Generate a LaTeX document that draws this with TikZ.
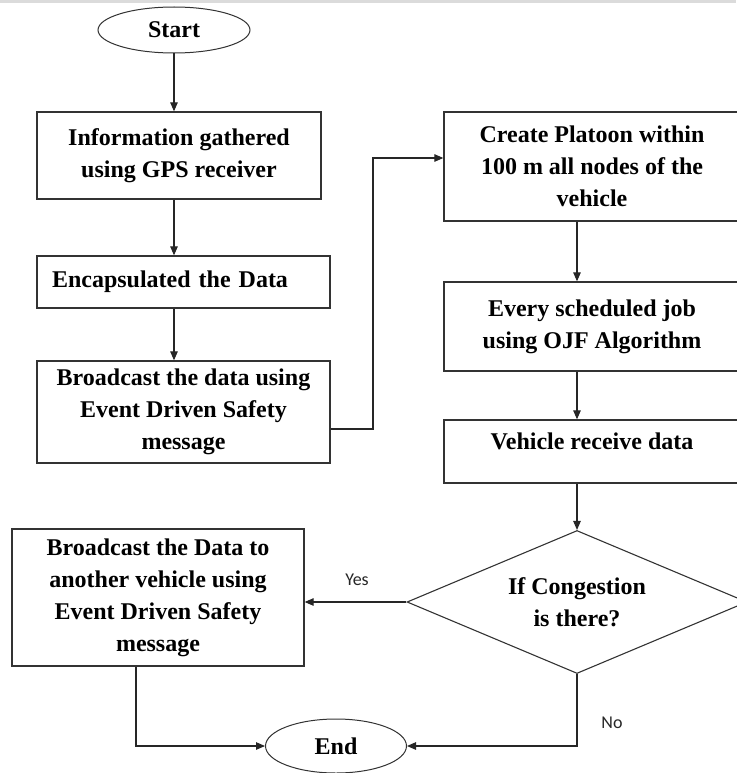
\documentclass[tikz,border=0pt]{standalone}
\usepackage{fontspec}
\setmainfont{Liberation Serif}
\newfontfamily\labelfont{Carlito}
\usetikzlibrary{shapes.geometric,arrows.meta}
\begin{document}
\begin{tikzpicture}[x=1pt,y=-1pt,
  boxtext/.style={font=\fontsize{24}{32}\selectfont\bfseries},
  stepbox/.style={boxtext, draw=black!80, line width=1.3pt, rectangle,
    inner sep=0pt, align=center},
  term/.style={boxtext, draw=black!80, line width=1pt, ellipse, inner sep=0pt},
  decision/.style={boxtext, draw=black!80, line width=1.1pt, diamond,
    aspect=2.38, inner sep=0pt, align=center},
  flow/.style={draw=black!85, line width=1.1pt,
    -{Triangle[length=9pt,width=7.5pt]}},
  ans/.style={font=\labelfont\fontsize{18}{20}\selectfont, text=black!85}]
\useasboundingbox (0,0) rectangle (736,773);
\fill[black!14] (0,0) rectangle (736,3);

% terminals
\node[term, minimum width=152pt, minimum height=46pt] (start) at (174,30) {Start};
\node[term, minimum width=141pt, minimum height=54pt] (end) at (336,746) {End};

% left column
\node[stepbox, minimum width=284pt, minimum height=87pt] (b1) at (179,155.5)
  {Information gathered\\using GPS receiver};
\node[stepbox, minimum width=293pt, minimum height=52pt, text width=263pt, align=left]
  (b2) at (183.5,282) {Encapsulated the Data};
\node[stepbox, minimum width=293pt, minimum height=102pt] (b3) at (183.5,412)
  {Broadcast the data using\\Event Driven Safety\\message};

% right column
\node[stepbox, minimum width=296pt, minimum height=109pt] (b4) at (592,166.5)
  {Create Platoon within\\100 m all nodes of the\\vehicle};
\node[stepbox, minimum width=296pt, minimum height=89pt] (b5) at (592,326.5)
  {Every scheduled job\\using OJF Algorithm};
\node[stepbox, minimum width=296pt, minimum height=63pt, text height=17pt,
  text depth=22pt] (b6) at (592,451.5) {Vehicle receive data};
\node[decision, minimum width=340pt, minimum height=143pt] (dec) at (577,602)
  {If Congestion\\is there?};
\node[stepbox, minimum width=292pt, minimum height=137pt] (b7) at (158,597.5)
  {Broadcast the Data to\\another vehicle using\\Event Driven Safety\\message};

% routing points
\coordinate (jlow) at (373,429);
\coordinate (jhigh) at (373,158);
\coordinate (rcol) at (577,0);
\coordinate (jend) at (136,746);

% connectors
\draw[flow] (start.south) -- (start.south |- b1.north);
\draw[flow] (b1.south -| start) -- (b2.north -| start);
\draw[flow] (b2.south -| start) -- (b3.north -| start);
\draw[flow] (b3.east |- jlow) -- (jlow) -- (jhigh) -- (b4.west |- jhigh);
\draw[flow] (b4.south -| rcol) -- (b5.north -| rcol);
\draw[flow] (b5.south -| rcol) -- (b6.north -| rcol);
\draw[flow] (b6.south -| rcol) -- (dec.north);
\draw[flow] (dec.west) -- (b7.east |- dec.west);
\draw[flow] (b7.south -| jend) -- (jend) -- (end.west);
\draw[flow] (dec.south) -- (dec.south |- end.east) -- (end.east);

% answer labels
\node[ans] (yes) at (357,580) {Yes};
\node[ans] (no) at (612,723) {No};
\end{tikzpicture}
\end{document}
